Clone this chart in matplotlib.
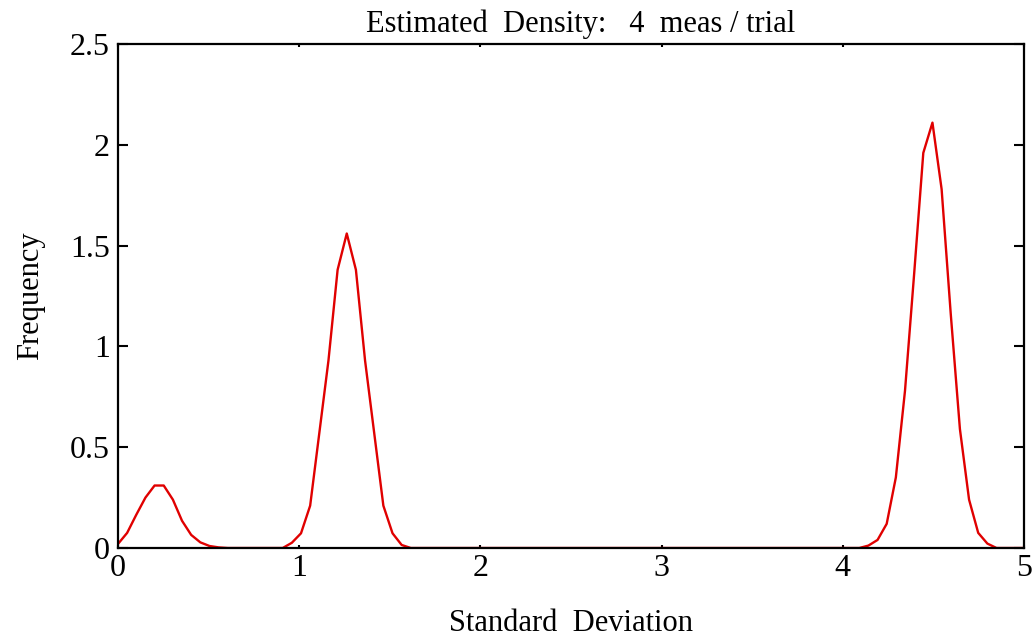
import numpy as np
import matplotlib
matplotlib.use("Agg")
import matplotlib.pyplot as plt
from matplotlib.ticker import FuncFormatter

# Estimated density (only the bumps plus the ends of flat zero runs)
sd = [0.0, 0.0505, 0.101, 0.1515, 0.202, 0.2525, 0.303, 0.3535, 0.404, 0.4545,
      0.505, 0.5556, 0.6061,
      0.9091, 0.9596, 1.0101, 1.0606, 1.1111, 1.1616, 1.2121, 1.2626, 1.3131,
      1.3636, 1.4141, 1.4646, 1.5152, 1.5657, 1.6162,
      4.0909, 4.1414, 4.1919, 4.2424, 4.2929, 4.3434, 4.3939, 4.4444, 4.4949,
      4.5455, 4.596, 4.6465, 4.697, 4.7475, 4.798, 4.8485, 5.0]
freq = [0.02, 0.075, 0.165, 0.25, 0.31, 0.31, 0.24, 0.135, 0.065, 0.028,
        0.01, 0.003, 0.0,
        0.0, 0.026, 0.073, 0.21, 0.57, 0.93, 1.38, 1.56, 1.38,
        0.93, 0.57, 0.21, 0.073, 0.015, 0.0,
        0.0, 0.012, 0.04, 0.12, 0.35, 0.78, 1.36, 1.96, 2.11,
        1.78, 1.16, 0.59, 0.24, 0.075, 0.022, 0.0, 0.0]

title = "Estimated  Density:   4  meas / trial"
xlab = "Standard  Deviation"
ylab = "Frequency"
xticks = [0, 1, 2, 3, 4, 5]
yticks = [0, 0.5, 1, 1.5, 2, 2.5]

plt.rcParams["font.family"] = ["Liberation Serif", "DejaVu Serif"]

fig = plt.figure(figsize=(10.34, 6.39), dpi=100)
ax = fig.add_axes([0.1141, 0.1424, 0.8762, 0.7887])

ax.plot(sd, freq, color="#e00000", linewidth=1.7)

ax.set_xlim(0, 5)
ax.set_ylim(0, 2.5)
ax.set_xticks(xticks)
ax.set_yticks(yticks)
fmt = FuncFormatter(lambda v, p: "{:g}".format(v))
ax.xaxis.set_major_formatter(fmt)
ax.yaxis.set_major_formatter(fmt)

ax.tick_params(direction="in", width=1.5, top=True, right=True, labelsize=23)
ax.tick_params(axis="x", length=2.5, pad=4)
ax.tick_params(axis="y", length=7, pad=6)
for s in ax.spines.values():
    s.set_linewidth(1.6)

ax.set_title(title, fontsize=22, pad=9, x=0.511)
ax.set_xlabel(xlab, fontsize=22, labelpad=19)
ax.set_ylabel(ylab, fontsize=22, labelpad=18)

plt.savefig("out.png", dpi=100)
plt.close()
